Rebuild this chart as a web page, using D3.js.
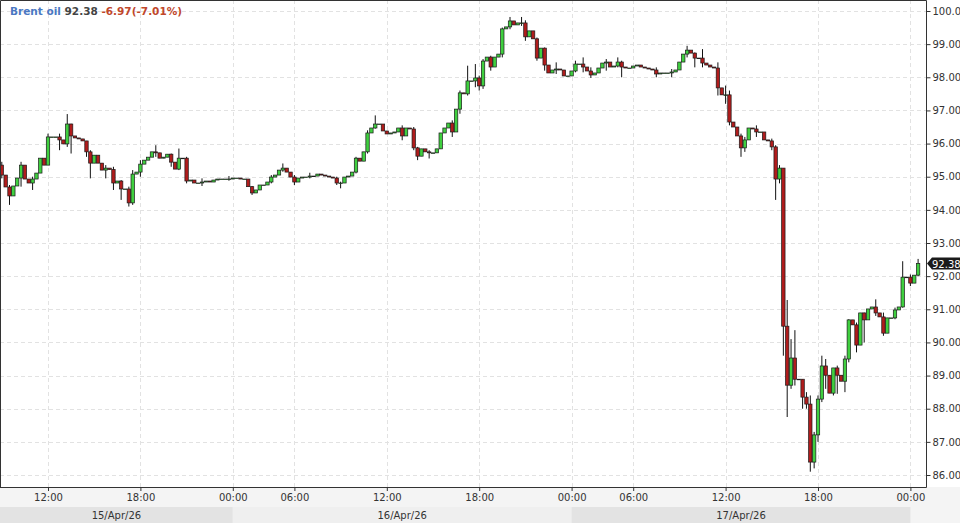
<!DOCTYPE html>
<html>
<head>
<meta charset="UTF-8">
<title>Brent oil</title>
<style>
  body { margin: 0; background: #fff; font-family: "DejaVu Sans", sans-serif; }
  svg text { font-family: "DejaVu Sans", sans-serif; }
</style>
</head>
<body>
<svg id="chart" width="960" height="523"></svg>
<script src="https://d3js.org/d3.v7.min.js"></script>
<script>
// 15-minute closes, 15/Apr 09:00 onwards (index = candle slot)
const closes = [
  95.05, 94.69, 94.42, 94.72, 94.96, 95.35, 94.93, 94.81, 94.93, 95.11,
  95.56, 95.35, 96.20, 96.20, 96.20, 96.11, 95.99, 96.59, 96.23, 96.17,
  96.14, 96.08, 95.75, 95.41, 95.65, 95.41, 95.20, 95.26, 95.22, 94.81,
  94.87, 94.63, 94.63, 94.21, 95.08, 95.14, 95.38, 95.50, 95.59, 95.75,
  95.72, 95.56, 95.59, 95.68, 95.44, 95.23, 95.56, 95.56, 94.87, 94.90,
  94.81, 94.81, 94.84, 94.87, 94.84, 94.90, 94.93, 94.93, 94.93, 94.93,
  94.96, 94.96, 94.93, 94.93, 94.70, 94.51, 94.60, 94.75, 94.75, 94.84,
  94.99, 95.05, 95.20, 95.26, 95.14, 94.99, 94.84, 94.96, 94.99, 94.99,
  95.02, 95.02, 95.08, 95.05, 95.02, 94.99, 94.96, 94.81, 94.81, 94.99,
  95.02, 95.14, 95.56, 95.47, 95.75, 96.32, 96.47, 96.59, 96.59, 96.38,
  96.29, 96.32, 96.35, 96.47, 96.23, 96.47, 96.44, 95.87, 95.62, 95.84,
  95.75, 95.72, 95.72, 95.84, 96.32, 96.47, 96.62, 96.35, 97.04, 97.53,
  97.50, 97.89, 97.89, 97.98, 97.74, 98.49, 98.61, 98.31, 98.61, 98.70,
  99.46, 99.52, 99.70, 99.58, 99.64, 99.64, 99.22, 99.40, 99.16, 98.58,
  98.88, 98.37, 98.13, 98.22, 98.25, 98.22, 98.04, 98.04, 98.19, 98.40,
  98.40, 98.31, 98.19, 98.07, 98.13, 98.28, 98.43, 98.46, 98.31, 98.34,
  98.46, 98.31, 98.28, 98.28, 98.34, 98.37, 98.31, 98.28, 98.25, 98.22,
  98.10, 98.13, 98.13, 98.13, 98.16, 98.22, 98.46, 98.70, 98.82, 98.73,
  98.58, 98.58, 98.43, 98.37, 98.31, 98.28, 97.68, 97.47, 97.47, 96.65,
  96.50, 96.23, 95.87, 96.11, 96.47, 96.44, 96.35, 96.35, 96.11, 96.08,
  95.90, 94.93, 95.26, 90.49, 88.71, 89.53, 88.89, 88.89, 88.35, 88.14,
  86.39, 87.21, 88.29, 89.29, 89.01, 88.47, 89.23, 89.01, 88.83, 89.50,
  90.68, 90.53, 89.92, 90.89, 90.68, 91.01, 91.07, 90.89, 90.77, 90.28,
  90.74, 90.74, 90.98, 91.07, 91.97, 91.97, 91.79, 92.03, 92.38
];
const firstOpen = 95.35;
// notable wicks: [index, high, low]
const wicks = [
  [0, 95.45, 94.95], [2, 94.75, 94.15], [5, 95.45, 94.7], [8, 95.0, 94.6],
  [12, 96.3, 95.5], [15, 96.3, 95.8], [17, 96.89, 95.9], [18, 96.6, 95.7],
  [22, 96.0, 95.6], [23, 95.8, 94.95], [27, 95.35, 94.95], [29, 95.3, 94.6],
  [31, 94.9, 94.3], [33, 94.7, 94.1], [34, 95.2, 94.15], [36, 95.5, 95.0],
  [40, 95.95, 95.6], [44, 95.7, 95.3], [46, 95.85, 95.2], [48, 95.6, 94.8],
  [52, 94.95, 94.72], [59, 95.02, 94.88], [65, 94.72, 94.45], [70, 95.05, 94.8],
  [73, 95.4, 95.15], [76, 95.05, 94.75], [80, 95.12, 94.95], [87, 95.0, 94.75],
  [88, 94.85, 94.65], [92, 95.6, 95.1], [95, 96.4, 95.7], [97, 96.85, 96.45],
  [104, 96.55, 96.1], [107, 96.5, 95.8], [108, 95.9, 95.5], [111, 95.8, 95.55],
  [117, 96.7, 96.2], [119, 97.6, 96.9], [121, 98.35, 97.45], [123, 98.4, 97.7],
  [124, 98.05, 97.6], [125, 98.55, 97.65], [127, 98.65, 98.2], [130, 99.5, 98.6],
  [132, 99.82, 99.45], [135, 99.82, 99.55], [136, 99.72, 99.1], [139, 99.2, 98.5],
  [141, 98.9, 98.2], [144, 98.45, 98.1], [149, 98.5, 98.15], [151, 98.6, 98.15],
  [153, 98.3, 97.98], [157, 98.55, 98.2], [160, 98.6, 98.3], [161, 98.5, 98.0],
  [170, 98.3, 98.0], [174, 98.25, 98.0], [178, 98.95, 98.6], [180, 98.75, 98.3],
  [182, 98.85, 98.3], [186, 98.45, 97.45], [188, 97.75, 97.2], [189, 97.6, 96.55],
  [192, 96.3, 95.6], [193, 96.2, 95.75], [196, 96.55, 96.2], [200, 96.15, 95.8],
  [201, 95.95, 94.3], [202, 95.35, 94.8], [203, 95.26, 89.6], [204, 91.28, 87.75],
  [205, 90.1, 88.6], [206, 90.37, 88.7], [208, 88.6, 88.0], [209, 88.5, 88.0],
  [210, 88.4, 86.1], [211, 87.3, 86.2], [212, 88.4, 87.0], [213, 89.6, 88.2],
  [214, 89.5, 88.6], [216, 89.2, 88.4], [217, 89.3, 88.45], [219, 89.6, 88.5],
  [220, 90.7, 89.4], [222, 90.6, 89.7], [224, 90.9, 90.0], [227, 91.3, 90.8],
  [229, 90.9, 90.2], [232, 91.05, 90.7], [234, 92.45, 91.05], [236, 92.05, 91.7],
  [238, 92.52, 92.0]
];
const timeTicks = [12, 36, 60, 76, 100, 124, 148, 164, 188, 212, 236];
const timeLabels = ["12:00", "18:00", "00:00", "06:00", "12:00", "18:00", "00:00", "06:00", "12:00", "18:00", "00:00"];
const dayLabels = ["15/Apr/26", "16/Apr/26", "17/Apr/26"];
const dayStarts = [-8, 60, 148];  // slot index where each day band begins
const dayEnds = [60, 148, 236];
const priceTicks = d3.range(86, 101);

const candles = closes.map((c, i) => {
  const o = i === 0 ? firstOpen : closes[i - 1];
  return { i, o, c, h: Math.max(o, c), l: Math.min(o, c) };
});
wicks.forEach(([i, h, l]) => {
  const d = candles[i];
  d.h = Math.max(d.h, h);
  d.l = Math.min(d.l, l);
});

const svg = d3.select("#chart");
const plotW = 926, plotH = 487;

const x = d3.scaleLinear().domain([0, closes.length - 1]).range([1.8, 1.8 + (closes.length - 1) * 3.85]);
const y = d3.scaleLinear().domain([85.638, 100.332]).range([plotH, 0]);

// bottom bands
svg.append("rect").attr("x", 0).attr("y", plotH).attr("width", 960).attr("height", 36).attr("fill", "#f4f4f4");
svg.selectAll(".dayband").data(dayLabels).join("rect")
  .attr("x", (d, k) => Math.max(0, x(dayStarts[k])))
  .attr("y", 507)
  .attr("width", (d, k) => x(dayEnds[k]) - Math.max(0, x(dayStarts[k])))
  .attr("height", 16)
  .attr("fill", (d, k) => k % 2 ? "#efefef" : "#e3e3e3");
svg.selectAll(".daylab").data(dayLabels).join("text")
  .attr("x", (d, k) => (Math.max(0, x(dayStarts[k])) + x(dayEnds[k])) / 2)
  .attr("y", 519).attr("text-anchor", "middle")
  .attr("font-size", 10).attr("fill", "#333").text(d => d);

// grid
const grid = svg.append("g").attr("stroke", "#e2e2e2").attr("stroke-dasharray", "4,3");
grid.selectAll("line.h").data(priceTicks).join("line")
  .attr("x1", 0).attr("x2", plotW).attr("y1", d => Math.round(y(d)) + 0.5).attr("y2", d => Math.round(y(d)) + 0.5);
grid.selectAll("line.v").data(timeTicks).join("line")
  .attr("x1", d => Math.round(x(d)) + 0.5).attr("x2", d => Math.round(x(d)) + 0.5).attr("y1", 0).attr("y2", plotH);

// candles
svg.append("clipPath").attr("id", "clip").append("rect").attr("width", plotW).attr("height", plotH);
const g = svg.append("g").attr("clip-path", "url(#clip)");
g.selectAll("line.wick").data(candles).join("line")
  .attr("x1", d => x(d.i)).attr("x2", d => x(d.i))
  .attr("y1", d => y(d.h)).attr("y2", d => y(d.l))
  .attr("stroke", "#111").attr("stroke-width", 1);
g.selectAll("rect.body").data(candles).join("rect")
  .attr("x", d => x(d.i) - 1.7).attr("width", 3.4)
  .attr("y", d => y(Math.max(d.o, d.c)))
  .attr("height", d => Math.max(0.6, Math.abs(y(d.o) - y(d.c))))
  .attr("fill", d => d.c >= d.o ? "#3fcf3f" : "#b01c1c")
  .attr("stroke", "#1a1a1a").attr("stroke-width", 0.7);

// frame
svg.append("path").attr("d", `M0.5,${plotH}V0.5H${plotW + 0.5}V${plotH + 0.5}H0`)
  .attr("fill", "none").attr("stroke", "#333").attr("stroke-width", 1);

// right axis
const ya = svg.append("g").attr("transform", `translate(${plotW + 0.5},0)`)
  .call(d3.axisRight(y).tickValues(priceTicks).tickSize(4).tickPadding(2).tickFormat(d3.format(".2f")));
ya.select(".domain").remove();
ya.selectAll("text").attr("font-size", 10).attr("fill", "#333").style("font-family", "DejaVu Sans");
ya.selectAll("line").attr("stroke", "#333");

// bottom axis
const xa = svg.append("g").attr("transform", `translate(0,${plotH})`)
  .call(d3.axisBottom(x).tickValues(timeTicks).tickSize(4).tickPadding(3).tickFormat((d, k) => timeLabels[k]));
xa.select(".domain").remove();
xa.selectAll("text").attr("font-size", 10).attr("fill", "#333").style("font-family", "DejaVu Sans");
xa.selectAll("line").attr("stroke", "#333");

// last price marker
const last = closes[closes.length - 1];
const ly = y(last);
svg.append("path")
  .attr("d", `M${plotW + 1},${ly} l5,-6 h33 v12 h-33 z`)
  .attr("fill", "#1a1a1a");
svg.append("text").attr("x", plotW + 6).attr("y", ly + 4)
  .attr("font-size", 10).attr("fill", "#fff").text(last.toFixed(2));

// title
const t = svg.append("text").attr("x", 10).attr("y", 15).attr("font-size", 10.5).attr("font-weight", "bold");
t.append("tspan").attr("fill", "#4a78c2").text("Brent oil ");
t.append("tspan").attr("fill", "#444").text(last.toFixed(2) + " ");
t.append("tspan").attr("fill", "#c0472b").text("-6.97(-7.01%)");
</script>
</body>
</html>
